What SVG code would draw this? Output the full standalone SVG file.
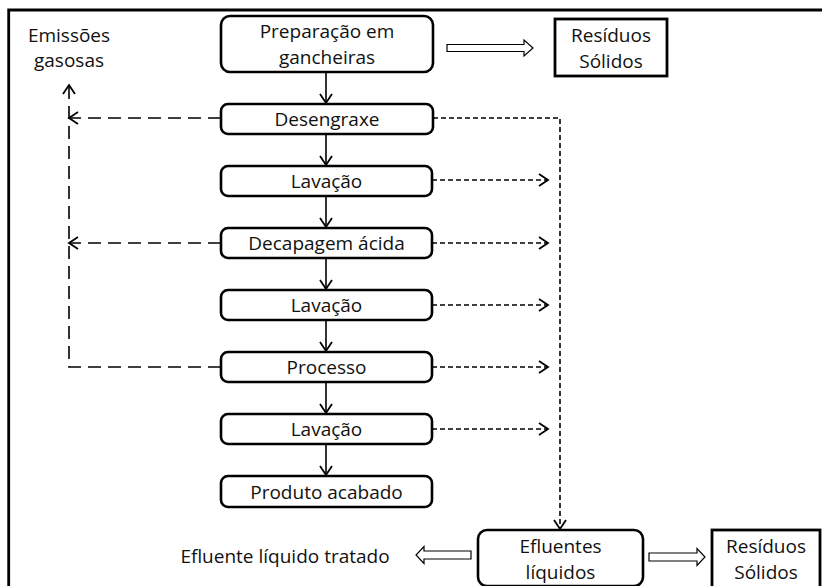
<svg xmlns="http://www.w3.org/2000/svg" width="822" height="586" viewBox="0 0 822 586">
<style>
.box{fill:#fff;stroke:#000;stroke-width:2.6}
.sq{fill:#fff;stroke:#000;stroke-width:2.8}
.t{font-family:"Open Sans","Liberation Sans",Arial,sans-serif;font-size:19px;fill:#111;text-anchor:middle}
.flow{fill:none;stroke:#000;stroke-width:1.6}
.gas{fill:none;stroke:#000;stroke-width:1.6;stroke-dasharray:13 7}
.liq{fill:none;stroke:#000;stroke-width:1.6;stroke-dasharray:5 3}
.hollow{fill:#fff;stroke:#000;stroke-width:1.2}
.frame{fill:none;stroke:#000;stroke-width:2.8}
</style>
<defs>
<marker id="v" markerUnits="userSpaceOnUse" markerWidth="14" markerHeight="14" viewBox="-12 -7 14 14" refX="0" refY="0" orient="auto">
<path d="M-9,-6 L0,0 L-9,6" fill="none" stroke="#000" stroke-width="1.8" stroke-dasharray="none"/>
</marker>
</defs>
<rect width="822" height="586" fill="#fff"/>
<g id="frame">
<path class="frame" d="M8.7,10 H822 M8.7,8.6 V586"/>
</g>
<g id="connectors">
<path class="flow" d="M326,72 V103" marker-end="url(#v)"/>
<path class="flow" d="M326,134 V165" marker-end="url(#v)"/>
<path class="flow" d="M326,196 V227" marker-end="url(#v)"/>
<path class="flow" d="M326,258 V289" marker-end="url(#v)"/>
<path class="flow" d="M326,320 V351" marker-end="url(#v)"/>
<path class="flow" d="M326,382 V413" marker-end="url(#v)"/>
<path class="flow" d="M326,444 V475" marker-end="url(#v)"/>
<path class="gas" d="M221,118 H69" marker-end="url(#v)"/>
<path class="gas" d="M221,243 H69" marker-end="url(#v)"/>
<path class="gas" d="M221,367 H69 V85" marker-end="url(#v)"/>
<path class="liq" d="M433,118 H560 V529" marker-end="url(#v)"/>
<path class="liq" d="M432,180 H548" marker-end="url(#v)"/>
<path class="liq" d="M432,243 H548" marker-end="url(#v)"/>
<path class="liq" d="M432,305 H548" marker-end="url(#v)"/>
<path class="liq" d="M432,367 H548" marker-end="url(#v)"/>
<path class="liq" d="M432,429 H548" marker-end="url(#v)"/>
<polygon class="hollow" points="447,44.5 524,44.5 524,40 533,48 524,56 524,51.5 447,51.5"/>
<polygon class="hollow" points="649,553 697,553 697,548.5 705,557 697,565.5 697,561 649,561"/>
<polygon class="hollow" points="471,551 424,551 424,546.5 416,555 424,563.5 424,559 471,559"/>
</g>
<g id="n-prep">
<rect class="box" x="221" y="16" width="212" height="56" rx="9"/>
<text class="t" x="327" y="38">Preparação em</text>
<text class="t" x="327" y="64">gancheiras</text>
</g>
<g id="n-res1">
<rect class="sq" x="555" y="19" width="112" height="57"/>
<text class="t" x="611" y="42">Resíduos</text>
<text class="t" x="611" y="68">Sólidos</text>
</g>
<g id="n-emis">
<text class="t" x="69" y="42">Emissões</text>
<text class="t" x="69" y="67">gasosas</text>
</g>
<g id="n-deseng">
<rect class="box" x="221" y="104" width="212" height="30" rx="7"/>
<text class="t" x="327" y="126">Desengraxe</text>
</g>
<g id="n-lav1">
<rect class="box" x="221" y="166" width="211" height="30" rx="7"/>
<text class="t" x="326.5" y="188">Lavação</text>
</g>
<g id="n-decap">
<rect class="box" x="221" y="228" width="211" height="30" rx="7"/>
<text class="t" x="326.5" y="250">Decapagem ácida</text>
</g>
<g id="n-lav2">
<rect class="box" x="221" y="290" width="211" height="30" rx="7"/>
<text class="t" x="326.5" y="312">Lavação</text>
</g>
<g id="n-proc">
<rect class="box" x="221" y="352" width="211" height="30" rx="7"/>
<text class="t" x="326.5" y="374">Processo</text>
</g>
<g id="n-lav3">
<rect class="box" x="221" y="414" width="211" height="30" rx="7"/>
<text class="t" x="326.5" y="436">Lavação</text>
</g>
<g id="n-prod">
<rect class="box" x="221" y="476" width="211" height="31" rx="7"/>
<text class="t" x="326.5" y="498.5">Produto acabado</text>
</g>
<g id="n-eflu">
<rect class="box" x="478" y="530" width="165" height="56" rx="9"/>
<text class="t" x="560.5" y="553">Efluentes</text>
<text class="t" x="560.5" y="579">líquidos</text>
</g>
<g id="n-res2">
<rect class="sq" x="712" y="530" width="108" height="60"/>
<text class="t" x="766" y="553">Resíduos</text>
<text class="t" x="766" y="579">Sólidos</text>
</g>
<g id="n-tratado">
<text class="t" x="285" y="563">Efluente líquido tratado</text>
</g>
</svg>
